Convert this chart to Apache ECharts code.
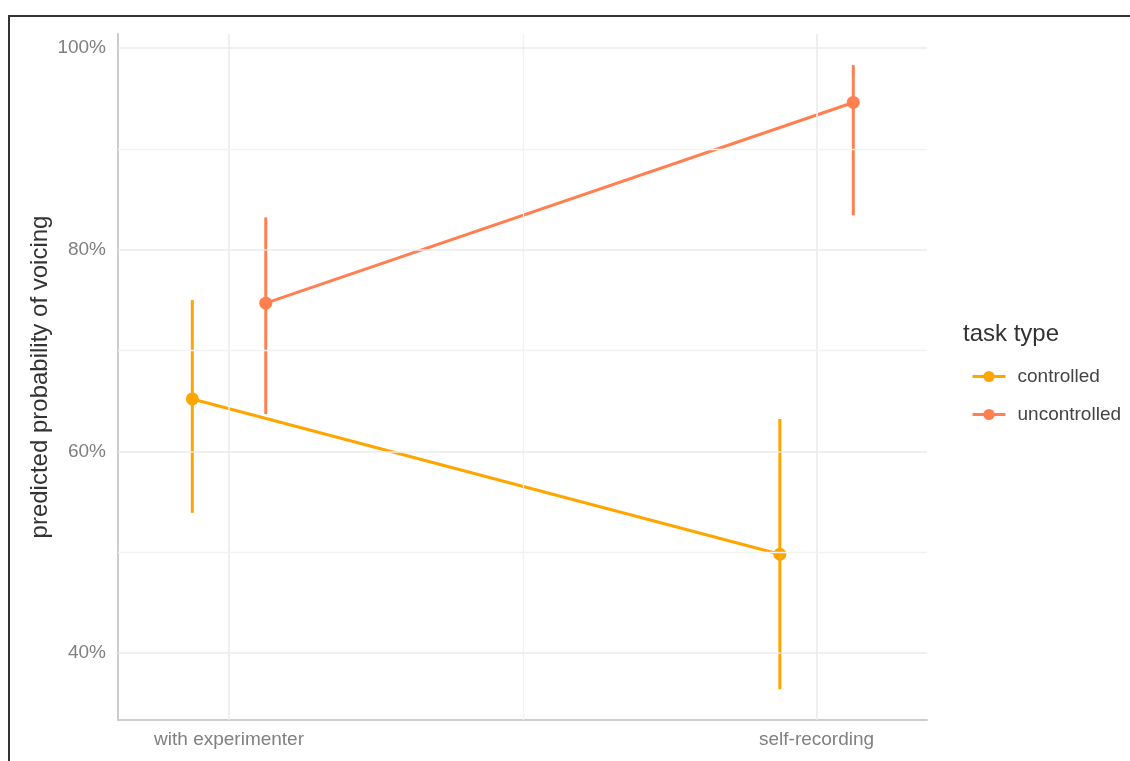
<!DOCTYPE html>
<html>
<head>
<meta charset="utf-8">
<script src="https://cdn.jsdelivr.net/npm/echarts@6/dist/echarts.min.js"></script>
<style>
  html, body { margin: 0; padding: 0; background: #fff; overflow: hidden; }
  #frame { position: absolute; left: 8px; top: 15px; width: 1200px; height: 800px;
           border-top: 2px solid #333; border-left: 2px solid #333; box-sizing: border-box; }
  #chart { position: absolute; left: 0; top: 0; width: 1130px; height: 761px; }
</style>
</head>
<body>
<div id="frame"></div>
<div id="chart"></div>
<script>
// Conditions on the x axis and the task-type groups
const conditions = ['with experimenter', 'self-recording'];
const taskTypes = ['controlled', 'uncontrolled'];
const groupColors = ['#FFA500', '#FF7F50'];
const dodge = [-0.0625, 0.0625];

// Predicted probability of voicing (%) with confidence bounds, per condition
const controlledFit   = [65.2, 49.8];
const controlledLow   = [53.9, 36.4];
const controlledHigh  = [75.0, 63.2];
const uncontrolledFit  = [74.7, 94.6];
const uncontrolledLow  = [63.7, 83.4];
const uncontrolledHigh = [83.2, 98.3];

const yTicks = [40, 60, 80, 100];
const yMinorTicks = [50, 70, 90];

const fits = [controlledFit, uncontrolledFit];
const lows = [controlledLow, uncontrolledLow];
const highs = [controlledHigh, uncontrolledHigh];

const FONT = 'Liberation Sans, Arial, sans-serif';
const chart = echarts.init(document.getElementById('chart'), null, { renderer: 'canvas' });

const gridMajor = { color: '#EBEBEB', width: 1.6, type: 'solid' };
const gridMinor = { color: '#F2F2F2', width: 1.3, type: 'solid' };

const gridLines = [];
conditions.forEach((c, i) => gridLines.push({ xAxis: i + 1, lineStyle: gridMajor }));
gridLines.push({ xAxis: 1.5, lineStyle: gridMinor });
yTicks.forEach(v => gridLines.push({ yAxis: v, lineStyle: gridMajor }));
yMinorTicks.forEach(v => gridLines.push({ yAxis: v, lineStyle: gridMinor }));

const series = [{
  type: 'line', data: [], silent: true, z: 0,
  markLine: { silent: true, symbol: 'none', label: { show: false }, animation: false, data: gridLines }
}];

taskTypes.forEach((name, g) => {
  const xs = conditions.map((c, i) => i + 1 + dodge[g]);
  series.push({
    type: 'custom', name: name + ' ci', z: 3,
    data: xs.map((x, i) => [x, lows[g][i], highs[g][i]]),
    renderItem: (params, api) => {
      const a = api.coord([api.value(0), api.value(1)]);
      const b = api.coord([api.value(0), api.value(2)]);
      return { type: 'line', shape: { x1: a[0], y1: a[1], x2: b[0], y2: b[1] },
               style: { stroke: groupColors[g], lineWidth: 3 } };
    },
    silent: true
  });
  series.push({
    type: 'line', name: name, z: 4,
    data: xs.map((x, i) => [x, fits[g][i]]),
    symbol: 'circle', symbolSize: 13,
    itemStyle: { color: groupColors[g] },
    lineStyle: { color: groupColors[g], width: 3 }
  });
});

chart.setOption({
  animation: false,
  backgroundColor: 'transparent',
  grid: { left: 118, right: 203, top: 34, bottom: 41, containLabel: false },
  xAxis: {
    type: 'value', min: 0.811, max: 2.188,
    axisLine: { show: true, lineStyle: { color: '#CCCCCC', width: 2 } },
    axisTick: { show: false },
    splitLine: { show: false },
    axisLabel: {
      customValues: conditions.map((c, i) => i + 1),
      formatter: v => conditions[Math.round(v) - 1] || '',
      color: '#808080', fontSize: 19, fontFamily: FONT, margin: 10
    }
  },
  yAxis: {
    type: 'value', min: 33.36, max: 101.39,
    name: 'predicted probability of voicing', nameLocation: 'middle', nameGap: 66,
    nameMoveOverlap: false,
    nameTextStyle: { color: '#333333', fontSize: 24, fontFamily: FONT },
    axisLine: { show: true, lineStyle: { color: '#CCCCCC', width: 2 } },
    axisTick: { show: false },
    splitLine: { show: false },
    axisLabel: {
      customValues: yTicks,
      formatter: v => v + '%',
      color: '#808080', fontSize: 19, fontFamily: FONT, margin: 12
    }
  },
  legend: {
    data: taskTypes, orient: 'vertical', left: 966, top: 362,
    itemWidth: 33, itemHeight: 14, itemGap: 19,
    lineStyle: { width: 3 },
    textStyle: { color: '#444444', fontSize: 19, fontFamily: FONT, padding: [0, 0, 0, 7] },
    selectedMode: false
  },
  graphic: [{
    type: 'text', left: 963, top: 322,
    style: { text: 'task type', fontSize: 24, fill: '#333333', fontFamily: FONT }
  }],
  series: series
});
</script>
</body>
</html>
